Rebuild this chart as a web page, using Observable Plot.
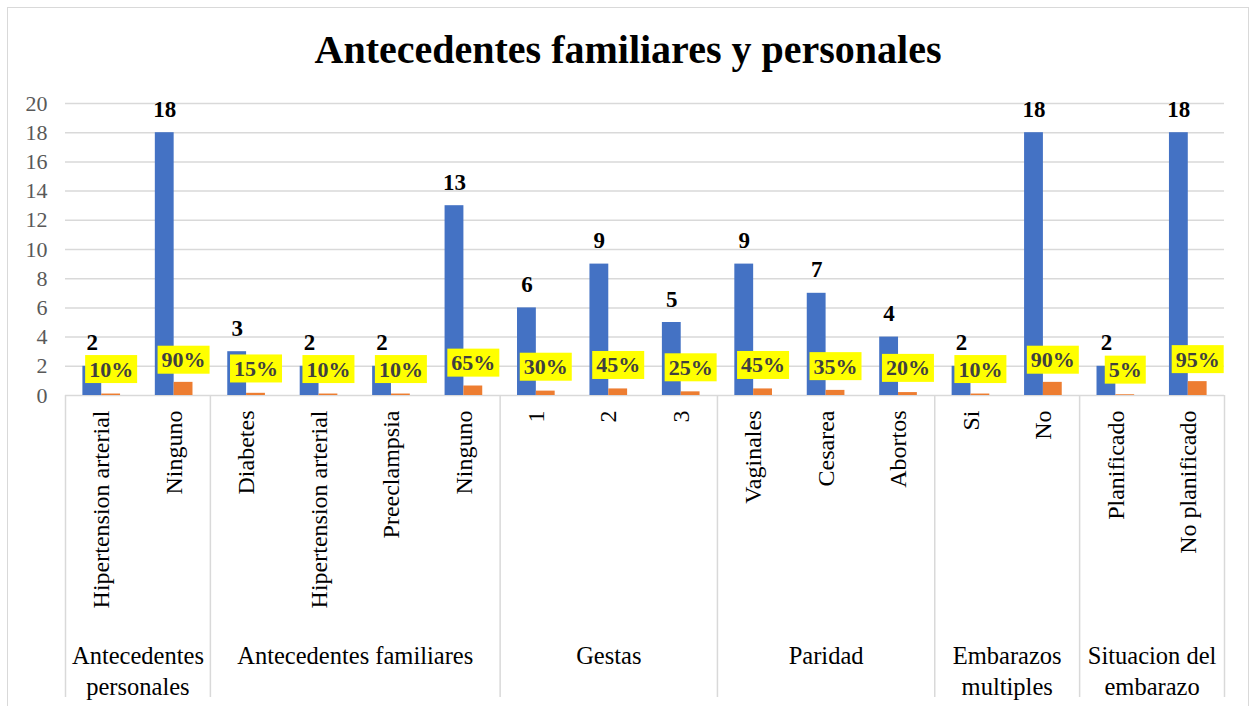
<!DOCTYPE html>
<html><head><meta charset="utf-8">
<script src="https://cdn.jsdelivr.net/npm/d3@7"></script>
<script src="https://cdn.jsdelivr.net/npm/@observablehq/plot@0.6"></script>
<style>
body{margin:0;background:#fff;width:1252px;height:706px;position:relative;overflow:hidden;font-family:"Liberation Serif","Times New Roman",serif;}
#frame{position:absolute;left:7px;top:7px;width:1242px;height:740px;border:1.5px solid #d9d9d9;box-sizing:border-box;}
#title{position:absolute;left:7px;width:1242px;top:30px;text-align:center;font-weight:bold;font-size:40px;line-height:40px;color:#000;}
#chart{position:absolute;left:0;top:90px;}
svg text{font-family:"Liberation Serif","Times New Roman",serif;}
</style></head><body>
<div id="frame"></div>
<div id="title">Antecedentes familiares y personales</div>
<div id="chart"></div>
<script>
const groups = ["Antecedentes personales","Antecedentes familiares","Gestas","Paridad","Embarazos multiples","Situacion del embarazo"];
const groupSizes = [2,4,3,3,2,2];
const categories = ["Hipertension arterial","Ninguno","Diabetes","Hipertension arterial","Preeclampsia","Ninguno","1","2","3","Vaginales","Cesarea","Abortos","Si","No","Planificado","No planificado"];
const counts = [2,18,3,2,2,13,6,9,5,9,7,4,2,18,2,18];
const percents = [0.10,0.90,0.15,0.10,0.10,0.65,0.30,0.45,0.25,0.45,0.35,0.20,0.10,0.90,0.05,0.95];
const yTicks = [0,2,4,6,8,10,12,14,16,18,20];

const rows = categories.map((cat,i)=>({i, cat, count:counts[i], pct:percents[i]}));
const bounds = [0];
groupSizes.forEach(s=>bounds.push(bounds[bounds.length-1]+s));
const groupRows = groups.map((g,k)=>{
  let label = g;
  if (groupSizes[k] <= 2 && g.includes(" ")) {
    const p = g.lastIndexOf(" ");
    label = g.slice(0,p) + "\n" + g.slice(p+1);
  }
  return {label, mid:(bounds[k]+bounds[k+1])/2};
});

const font = "Liberation Serif, Times New Roman, serif";
const plot = Plot.plot({
  width:1252, height:616,
  marginLeft:65, marginRight:28, marginTop:13, marginBottom:311,
  x:{domain:[0,categories.length], axis:null},
  y:{domain:[0,20], axis:null},
  style:{fontFamily:font, background:"transparent", overflow:"visible"},
  marks:[
    Plot.ruleY(yTicks, {stroke:"#d9d9d9", strokeWidth:1.5}),
    Plot.ruleX(bounds, {x:d=>d, y1:0, y2:0, insetBottom:-302, stroke:"#d9d9d9", strokeWidth:1.5}),
    Plot.text(yTicks, {x:0, y:d=>d, text:d=>String(d), dx:-18, textAnchor:"end", fontFamily:font, fontSize:22, fill:"#595959"}),
    Plot.rectY(rows, {x1:d=>d.i+0.24, x2:d=>d.i+0.5, y:"count", fill:"#4472C4"}),
    Plot.rectY(rows, {x1:d=>d.i+0.5, x2:d=>d.i+0.76, y:"pct", fill:"#ED7D31"}),
    Plot.text(rows, {x:d=>d.i+0.37, y:"count", text:d=>String(d.count), dy:-16, lineAnchor:"bottom", fontFamily:font, fontWeight:"bold", fontSize:23, fill:"#000"}),
    Plot.text(rows, {x:d=>d.i+0.63, y:d=>1.7+0.8*d.pct, text:d=>Math.round(d.pct*100)+"%", lineAnchor:"middle", fontFamily:font, fontWeight:"bold", fontSize:22, fill:"#404040"}),
    Plot.text(rows, {x:d=>d.i+0.5, y:0, text:"cat", rotate:-90, textAnchor:"end", lineAnchor:"middle", dy:15, fontFamily:font, fontSize:24, fill:"#000"}),
    Plot.text(groupRows, {x:"mid", y:0, text:"label", lineAnchor:"top", lineHeight:1.25, dy:247, fontFamily:font, fontSize:24.5, fill:"#000"})
  ]
});
document.getElementById("chart").appendChild(plot);

// yellow highlight boxes behind percentage labels
plot.querySelectorAll("text").forEach(t=>{
  if (!/%$/.test(t.textContent)) return;
  const b = t.getBBox();
  const r = document.createElementNS("http://www.w3.org/2000/svg","rect");
  r.setAttribute("x", b.x-4);
  r.setAttribute("y", b.y-1.5);
  r.setAttribute("width", b.width+8);
  r.setAttribute("height", b.height+3);
  r.setAttribute("fill", "#ffff00");
  const tr = t.getAttribute("transform");
  if (tr) r.setAttribute("transform", tr);
  t.parentNode.insertBefore(r, t);
});
</script>
</body></html>
